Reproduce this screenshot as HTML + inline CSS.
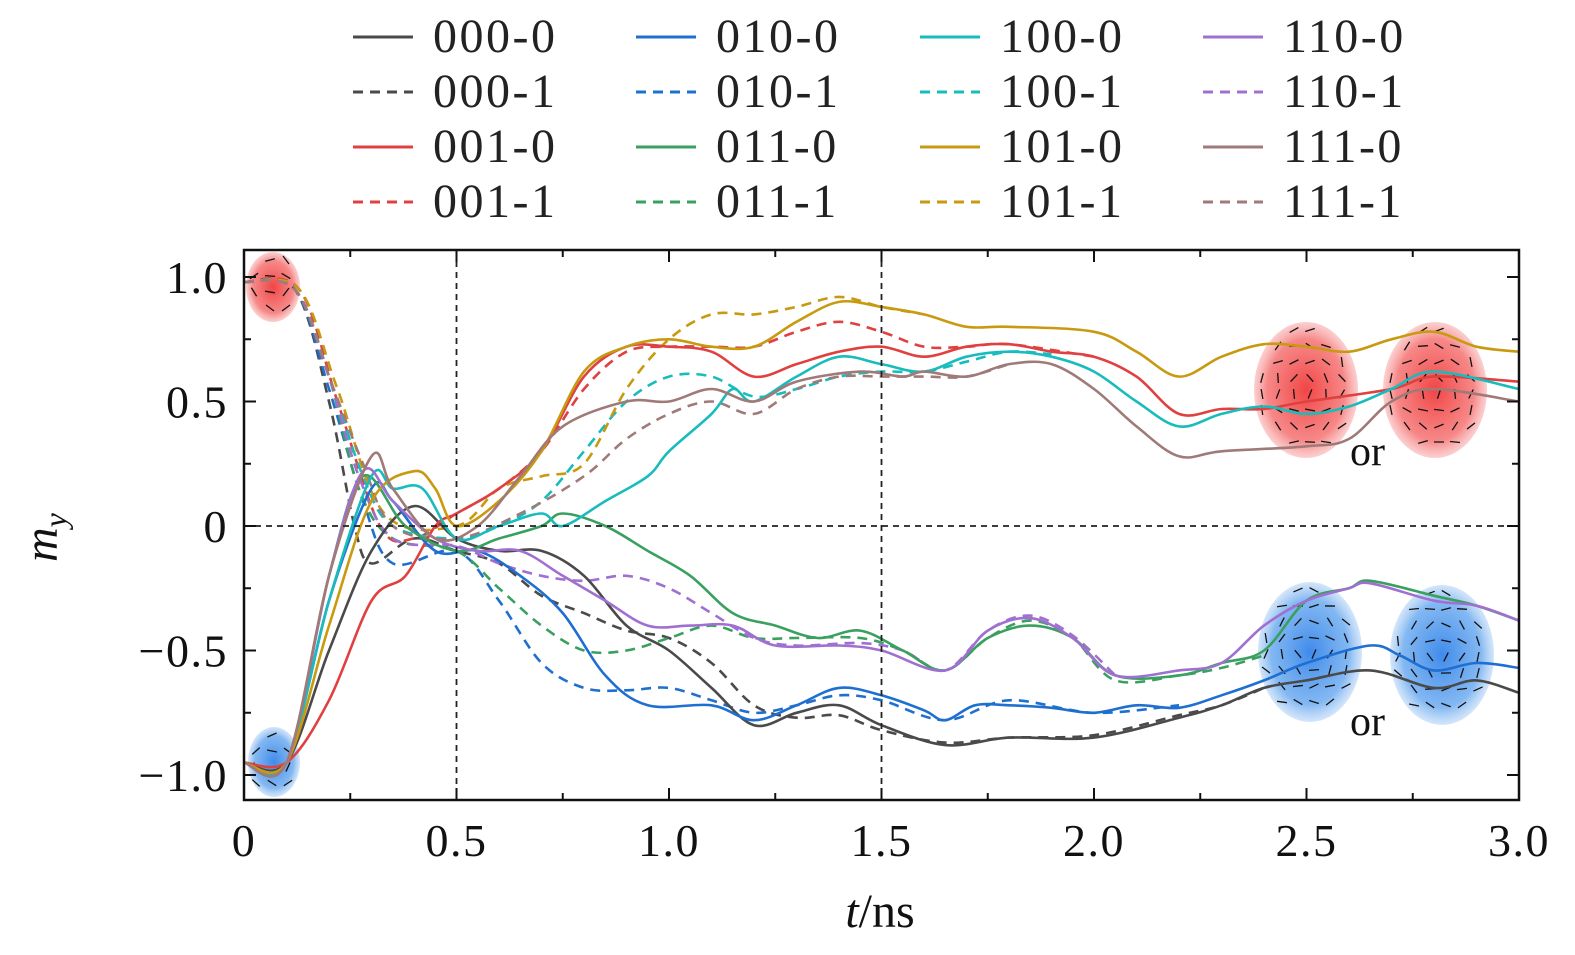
<!DOCTYPE html>
<html><head><meta charset="utf-8"><style>
html,body{margin:0;padding:0;background:#fff;}
svg{display:block;font-family:"Liberation Serif",serif;}
</style></head><body>
<svg id="s" width="1575" height="955" viewBox="0 0 1575 955" xmlns="http://www.w3.org/2000/svg">
<defs>
<radialGradient id="rg"><stop offset="0" stop-color="#f03030" stop-opacity="0.9"/><stop offset="0.75" stop-color="#f46060" stop-opacity="0.75"/><stop offset="1" stop-color="#f8a0a0" stop-opacity="0.5"/></radialGradient>
<radialGradient id="bg"><stop offset="0" stop-color="#2a7ee8" stop-opacity="0.9"/><stop offset="0.75" stop-color="#5aa0ee" stop-opacity="0.75"/><stop offset="1" stop-color="#a8ccf5" stop-opacity="0.5"/></radialGradient>
<clipPath id="pc"><rect x="244" y="250" width="1275" height="550"/></clipPath>
</defs>
<g id="legend"></g>
<g id="insets"></g>
<g id="curves" clip-path="url(#pc)"></g>
<g id="axes"></g>
</svg>
<script>
const NS="http://www.w3.org/2000/svg";
const X=t=>244+t*425, Y=v=>526-v*249;
function el(p,tag,a,txt){const e=document.createElementNS(NS,tag);for(const k in a)e.setAttribute(k,a[k]);if(txt!==undefined)e.textContent=txt;p.appendChild(e);return e;}
const C={k:'#4a4a4a',b:'#1f6fd0',r:'#e04040',g:'#3aa060',c:'#18bcbc',y:'#c89a10',p:'#a070d0',n:'#a07a78'};
const leg=document.getElementById('legend');
const cols=[[ '000',C.k,'001',C.r],['010',C.b,'011',C.g],['100',C.c,'101',C.y],['110',C.p,'111',C.n]];
const cx=[353,636,920,1203], ry=[37,92,147,202];
cols.forEach((c,i)=>{
 const items=[[c[0]+'-0',c[1],0],[c[0]+'-1',c[1],1],[c[2]+'-0',c[3],0],[c[2]+'-1',c[3],1]];
 items.forEach((it,j)=>{
  el(leg,'line',{x1:cx[i],x2:cx[i]+60,y1:ry[j],y2:ry[j],stroke:it[1],'stroke-width':3,'stroke-dasharray':it[2]?'10 7':'none'});
  el(leg,'text',{x:cx[i]+80,y:ry[j]+15,'font-size':48,'letter-spacing':2.5,fill:'#222'},it[0]);
 });
});
const ins=document.getElementById('insets');
function blob(cxp,cyp,rx,ryy,fill,up){
 el(ins,'ellipse',{cx:cxp,cy:cyp,rx:rx,ry:ryy,fill:fill});
 for(let a=-rx+8;a<rx;a+=16)for(let b=-ryy+8;b<ryy;b+=16){
  if((a*a)/(rx*rx)+(b*b)/(ryy*ryy)>0.85)continue;
  const ang=Math.atan2(b,a)+(up?1.6:-1.6)+Math.sin(a*0.3+b)*0.5;
  const dx=Math.cos(ang)*5,dy=Math.sin(ang)*5;
  el(ins,'line',{x1:cxp+a-dx,y1:cyp+b-dy,x2:cxp+a+dx,y2:cyp+b+dy,stroke:'#111','stroke-width':1.3});
 }
}
blob(273,287,27,35,'url(#rg)',1);
blob(274,762,26,35,'url(#bg)',0);
blob(1306,390,52,68,'url(#rg)',1);
blob(1435,390,52,68,'url(#rg)',0);
blob(1310,652,52,70,'url(#bg)',0);
blob(1442,655,52,70,'url(#bg)',1);
el(ins,'text',{x:1350,y:465,'font-size':42,fill:'#111'},'or');
el(ins,'text',{x:1350,y:735,'font-size':42,fill:'#111'},'or');
const cv=document.getElementById('curves');
function path(pts,col,dash){
 let P=pts.map(p=>[X(p[0]),Y(p[1])]);
 let d='M'+P[0][0]+','+P[0][1];
 for(let i=0;i<P.length-1;i++){
  const p0=P[Math.max(0,i-1)],p1=P[i],p2=P[i+1],p3=P[Math.min(P.length-1,i+2)];
  const c1=[p1[0]+(p2[0]-p0[0])/6,p1[1]+(p2[1]-p0[1])/6],c2=[p2[0]-(p3[0]-p1[0])/6,p2[1]-(p3[1]-p1[1])/6];
  d+=`C${c1[0].toFixed(1)},${c1[1].toFixed(1)} ${c2[0].toFixed(1)},${c2[1].toFixed(1)} ${p2[0].toFixed(1)},${p2[1].toFixed(1)}`;
 }
 el(cv,'path',{d:d,fill:'none',stroke:col,'stroke-width':2.6,'stroke-dasharray':dash?'10 7':'none','stroke-linejoin':'round'});
}
const s=str=>str.trim().split(/\s+/).map(x=>x.split(',').map(Number));
const D={
k0:s('0,-0.95 0.1,-0.95 0.2,-0.5 0.3,-0.1 0.4,0.08 0.5,-0.05 0.6,-0.1 0.7,-0.1 0.8,-0.2 0.9,-0.4 1.0,-0.5 1.1,-0.65 1.2,-0.8 1.3,-0.75 1.4,-0.72 1.5,-0.8 1.65,-0.88 1.8,-0.85 2.0,-0.85 2.2,-0.77 2.3,-0.72 2.4,-0.65 2.5,-0.62 2.65,-0.58 2.8,-0.65 2.9,-0.62 3.0,-0.67'),
k1:s('0,0.98 0.12,0.95 0.2,0.5 0.26,0.0 0.3,-0.15 0.4,-0.05 0.5,-0.1 0.6,-0.15 0.7,-0.28 0.8,-0.35 0.9,-0.42 1.0,-0.45 1.1,-0.55 1.2,-0.72 1.3,-0.77 1.4,-0.76 1.5,-0.82 1.65,-0.87 1.8,-0.85 2.0,-0.84 2.2,-0.76 2.3,-0.72 2.4,-0.65'),
b0:s('0,-0.95 0.1,-0.95 0.2,-0.3 0.3,0.15 0.35,0.1 0.45,-0.1 0.55,-0.1 0.65,-0.2 0.75,-0.35 0.85,-0.6 0.95,-0.72 1.1,-0.72 1.2,-0.78 1.3,-0.72 1.4,-0.65 1.5,-0.68 1.6,-0.74 1.65,-0.78 1.72,-0.72 1.8,-0.72 1.9,-0.73 2.0,-0.75 2.1,-0.72 2.2,-0.73 2.3,-0.68 2.4,-0.62 2.5,-0.55 2.65,-0.48 2.72,-0.52 2.8,-0.58 2.9,-0.55 3.0,-0.57'),
b1:s('0,0.98 0.12,0.95 0.2,0.55 0.28,0.1 0.35,-0.15 0.5,-0.1 0.6,-0.3 0.7,-0.55 0.8,-0.65 0.9,-0.66 1.0,-0.65 1.1,-0.7 1.2,-0.75 1.3,-0.72 1.4,-0.68 1.5,-0.7 1.65,-0.78 1.8,-0.7 2.0,-0.75 2.2,-0.72'),
r0:s('0,-0.95 0.1,-0.95 0.2,-0.7 0.3,-0.3 0.38,-0.2 0.45,0.0 0.5,0.05 0.6,0.15 0.7,0.3 0.8,0.6 0.9,0.72 1.0,0.72 1.1,0.7 1.2,0.6 1.3,0.65 1.4,0.7 1.5,0.72 1.6,0.68 1.7,0.72 1.8,0.73 1.9,0.7 2.0,0.68 2.1,0.6 2.2,0.45 2.3,0.47 2.4,0.47 2.5,0.5 2.7,0.55 2.8,0.6 3.0,0.58'),
r1:s('0,0.98 0.13,0.95 0.22,0.5 0.32,0.0 0.4,-0.05 0.5,0.05 0.6,0.15 0.7,0.3 0.8,0.55 0.9,0.7 1.0,0.72 1.1,0.72 1.2,0.72 1.3,0.78 1.4,0.82 1.5,0.78 1.6,0.72 1.7,0.72 1.8,0.73 2.0,0.68'),
g0:s('0,-0.95 0.1,-0.95 0.2,-0.2 0.28,0.2 0.38,0.0 0.5,-0.1 0.6,-0.05 0.7,0.0 0.75,0.05 0.85,0.0 0.95,-0.1 1.05,-0.2 1.15,-0.35 1.25,-0.4 1.35,-0.45 1.45,-0.42 1.55,-0.5 1.65,-0.58 1.75,-0.45 1.85,-0.4 1.95,-0.45 2.05,-0.6 2.2,-0.6 2.3,-0.55 2.4,-0.5 2.5,-0.3 2.6,-0.25 2.65,-0.22 2.8,-0.28 2.9,-0.32 3.0,-0.38'),
g1:s('0,0.98 0.12,0.95 0.2,0.6 0.27,0.15 0.35,-0.05 0.5,-0.1 0.6,-0.25 0.7,-0.4 0.8,-0.5 0.9,-0.5 1.0,-0.45 1.1,-0.4 1.2,-0.45 1.3,-0.45 1.45,-0.45 1.55,-0.5 1.65,-0.58 1.75,-0.45 1.85,-0.38 1.95,-0.45 2.05,-0.62 2.2,-0.6 2.3,-0.57 2.4,-0.52'),
c0:s('0,-0.95 0.1,-0.95 0.2,-0.3 0.3,0.2 0.35,0.15 0.42,0.15 0.5,-0.05 0.6,0.0 0.7,0.05 0.75,0.0 0.85,0.1 0.95,0.2 1.0,0.3 1.1,0.45 1.15,0.55 1.2,0.5 1.3,0.6 1.4,0.68 1.5,0.65 1.6,0.62 1.7,0.68 1.8,0.7 1.9,0.68 2.0,0.62 2.1,0.5 2.2,0.4 2.3,0.45 2.4,0.48 2.5,0.45 2.6,0.48 2.7,0.55 2.8,0.62 3.0,0.55'),
c1:s('0,0.98 0.12,0.95 0.2,0.6 0.28,0.2 0.35,0.0 0.5,-0.05 0.6,0.0 0.7,0.1 0.8,0.3 0.9,0.5 1.0,0.6 1.1,0.6 1.2,0.52 1.3,0.55 1.4,0.6 1.5,0.62 1.6,0.62 1.7,0.66 1.8,0.7 1.9,0.69'),
y0:s('0,-0.95 0.1,-0.95 0.2,-0.4 0.3,0.1 0.4,0.22 0.45,0.15 0.5,0.0 0.6,0.1 0.7,0.3 0.8,0.62 0.9,0.72 1.0,0.75 1.1,0.72 1.2,0.72 1.3,0.82 1.4,0.9 1.5,0.88 1.6,0.85 1.7,0.8 1.8,0.8 2.0,0.78 2.1,0.7 2.2,0.6 2.3,0.68 2.4,0.73 2.5,0.72 2.6,0.7 2.7,0.75 2.8,0.78 2.9,0.72 3.0,0.7'),
y1:s('0,0.98 0.13,0.95 0.22,0.55 0.33,0.05 0.5,0.0 0.6,0.15 0.7,0.2 0.8,0.25 0.9,0.55 1.0,0.75 1.1,0.85 1.2,0.85 1.3,0.88 1.4,0.92 1.5,0.88 1.6,0.85'),
p0:s('0,-0.95 0.1,-0.95 0.2,-0.2 0.28,0.22 0.35,0.1 0.45,-0.05 0.55,-0.1 0.65,-0.1 0.75,-0.2 0.85,-0.3 0.95,-0.4 1.05,-0.4 1.15,-0.4 1.25,-0.48 1.4,-0.48 1.5,-0.5 1.65,-0.58 1.75,-0.42 1.85,-0.37 1.95,-0.45 2.05,-0.6 2.2,-0.58 2.3,-0.55 2.4,-0.4 2.5,-0.3 2.6,-0.25 2.65,-0.23 2.8,-0.3 2.9,-0.32 3.0,-0.38'),
p1:s('0,0.98 0.12,0.95 0.2,0.6 0.27,0.2 0.35,-0.05 0.5,-0.08 0.6,-0.15 0.7,-0.2 0.8,-0.22 0.9,-0.2 1.0,-0.25 1.1,-0.35 1.2,-0.45 1.3,-0.48 1.45,-0.47 1.55,-0.5 1.65,-0.58 1.75,-0.42 1.85,-0.36 1.95,-0.44 2.05,-0.6'),
n0:s('0,-0.95 0.1,-0.95 0.2,-0.2 0.3,0.28 0.35,0.15 0.45,-0.05 0.55,0.0 0.65,0.2 0.75,0.4 0.9,0.5 1.0,0.5 1.1,0.55 1.2,0.5 1.3,0.58 1.45,0.62 1.55,0.6 1.6,0.62 1.7,0.6 1.8,0.65 1.9,0.65 2.0,0.55 2.1,0.4 2.2,0.28 2.3,0.3 2.5,0.32 2.6,0.35 2.7,0.5 2.8,0.55 3.0,0.5'),
n1:s('0,0.98 0.12,0.95 0.2,0.6 0.28,0.25 0.35,0.0 0.5,-0.05 0.65,0.05 0.8,0.2 0.9,0.35 1.0,0.45 1.1,0.5 1.2,0.45 1.3,0.55 1.4,0.6 1.5,0.6 1.6,0.6 1.7,0.6 1.8,0.65')
};
['k','r','b','g','c','y','p','n'].forEach(k=>{path(D[k+'1'],C[k],1);});
['k','r','b','g','c','y','p','n'].forEach(k=>{path(D[k+'0'],C[k],0);});
const ax=document.getElementById('axes');
el(ax,'line',{x1:244,x2:1519,y1:526,y2:526,stroke:'#222','stroke-width':1.8,'stroke-dasharray':'6 5'});
[0.5,1.5].forEach(t=>el(ax,'line',{x1:X(t),x2:X(t),y1:250,y2:800,stroke:'#222','stroke-width':1.8,'stroke-dasharray':'6 5'}));
el(ax,'rect',{x:244,y:250,width:1275,height:550,fill:'none',stroke:'#111','stroke-width':2.5});
for(let i=0;i<=12;i++){const t=i*0.25,x=X(t),L=i%2?7:12;
 el(ax,'line',{x1:x,x2:x,y1:800,y2:800-L,stroke:'#111','stroke-width':2});
 el(ax,'line',{x1:x,x2:x,y1:250,y2:250+L,stroke:'#111','stroke-width':2});
 if(i%2==0){const lab=i==0?'0':t.toFixed(1);el(ax,'text',{x:x,y:856,'font-size':46,'letter-spacing':1.5,'text-anchor':'middle',fill:'#111'},lab);}
}
for(let i=-4;i<=4;i++){const v=i*0.25,y=Y(v),L=i%2?7:12;
 el(ax,'line',{x1:244,x2:244+L,y1:y,y2:y,stroke:'#111','stroke-width':2});
 el(ax,'line',{x1:1519,x2:1519-L,y1:y,y2:y,stroke:'#111','stroke-width':2});
}
[[1,'1.0'],[0.5,'0.5'],[0,'0'],[-0.5,'\u22120.5'],[-1,'\u22121.0']].forEach(a=>el(ax,'text',{x:228,y:Y(a[0])+16,'font-size':46,'letter-spacing':1.5,'text-anchor':'end',fill:'#111'},a[1]));
const yl=el(ax,'text',{x:0,y:0,'font-size':48,'font-style':'italic',fill:'#111',transform:'translate(57,562) rotate(-90)'},'m');
el(yl,'tspan',{'font-size':32,dy:9},'y');
const xl=el(ax,'text',{x:880,y:927,'font-size':48,'text-anchor':'middle',fill:'#111'});
el(xl,'tspan',{'font-style':'italic'},'t');el(xl,'tspan',{},'/ns');
</script>
</body></html>
